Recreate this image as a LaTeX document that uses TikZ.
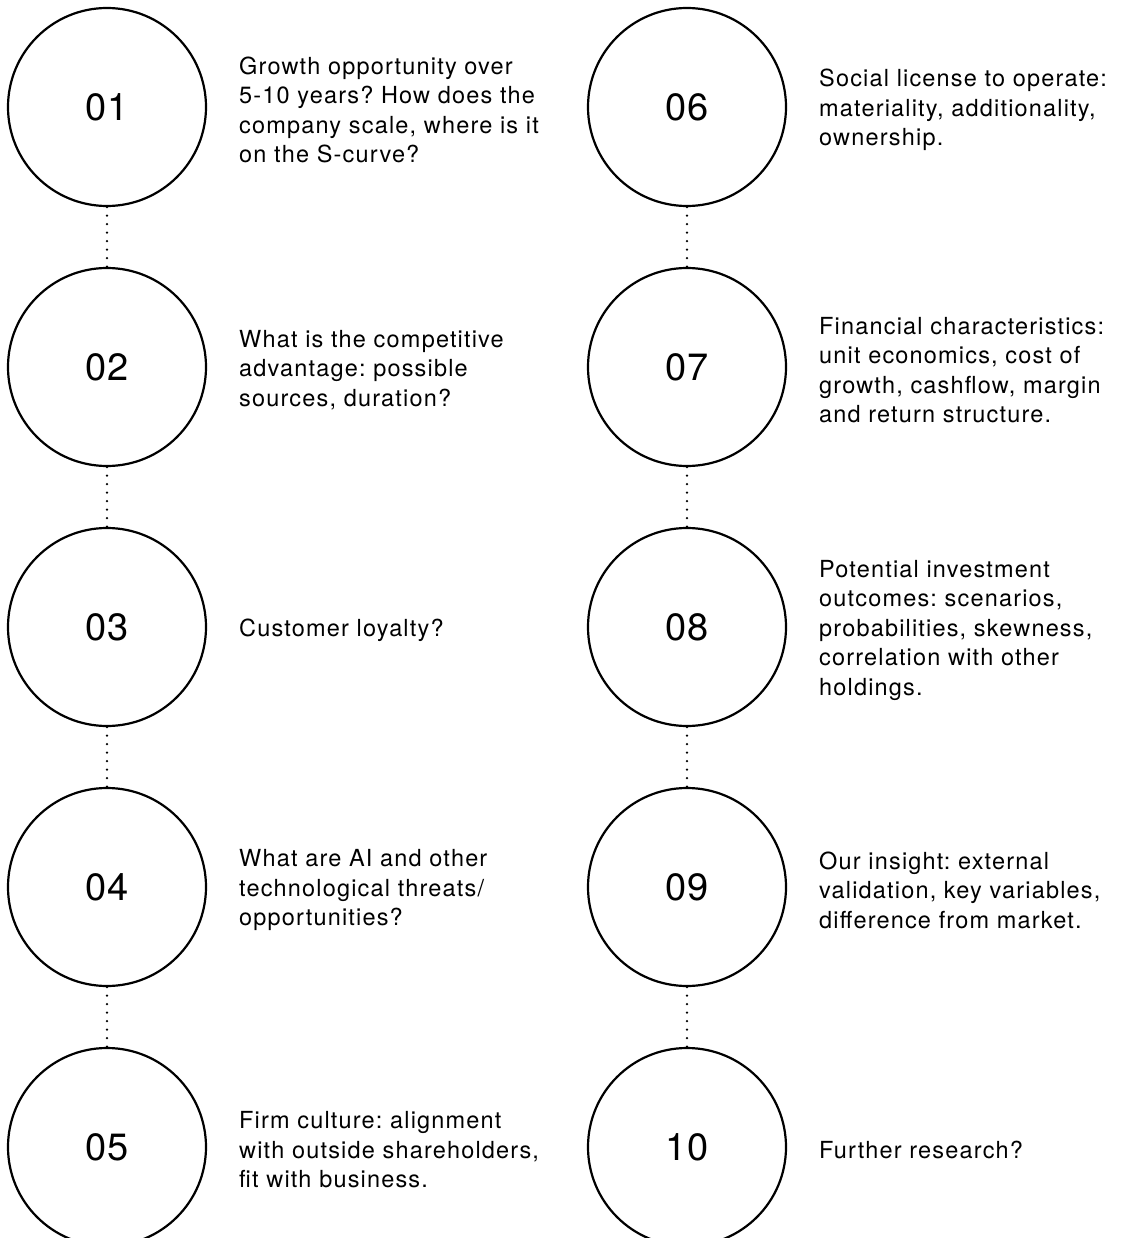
\documentclass[tikz,border=0pt]{standalone}
\usepackage{fontspec}
\setmainfont{TeX Gyre Heros}
\newfontfamily\bodyfont[LetterSpace=5]{TeX Gyre Heros}
\frenchspacing
\begin{document}
\begin{tikzpicture}[x=1pt,y=1pt,
  numcircle/.style={circle, draw=black, line width=2.2pt, minimum size=198pt, inner sep=0pt,
    font=\fontsize{38}{40}\selectfont},
  desc/.style={anchor=west, align=left, inner sep=0pt,
    font=\bodyfont\frenchspacing\fontsize{23.5}{29.5}\selectfont},
  dots/.style={line width=2.6pt, line cap=round, dash pattern=on 0pt off 8.5pt}]
\useasboundingbox (0,0) rectangle (1133,-1238);
% left column
\node[numcircle] (c1) at (107,-107) {01};
\node[numcircle] (c2) at (107,-367) {02};
\node[numcircle] (c3) at (107,-627) {03};
\node[numcircle] (c4) at (107,-887) {04};
\node[numcircle] (c5) at (107,-1147) {05};
% right column
\node[numcircle] (c6) at (687,-107) {06};
\node[numcircle] (c7) at (687,-367) {07};
\node[numcircle] (c8) at (687,-627) {08};
\node[numcircle] (c9) at (687,-887) {09};
\node[numcircle] (c10) at (687,-1147) {10};
% connectors
\draw[dots] (c1.south) -- (c2.north);
\draw[dots] (c2.south) -- (c3.north);
\draw[dots] (c3.south) -- (c4.north);
\draw[dots] (c4.south) -- (c5.north);
\draw[dots] (c6.south) -- (c7.north);
\draw[dots] (c7.south) -- (c8.north);
\draw[dots] (c8.south) -- (c9.north);
\draw[dots] (c9.south) -- (c10.north);
% descriptions
\node[desc] (t1) at (239,-110) {Growth opportunity over\\5-10 years? How does the\\company scale, where is it\\on the S-curve?};
\node[desc] (t2) at (239,-370) {What is the competitive\\advantage: possible\\sources, duration?};
\node[desc] (t3) at (239,-630) {Customer loyalty?};
\node[desc] (t4) at (239,-890) {What are AI and other\\technological threats/\\opportunities?};
\node[desc] (t5) at (239,-1150) {Firm culture: alignment\\with outside shareholders,\\fit with business.};
\node[desc] (t6) at (819,-110) {Social license to operate:\\materiality, additionality,\\ownership.};
\node[desc] (t7) at (819,-370) {Financial characteristics:\\unit economics, cost of\\growth, cashflow, margin\\and return structure.};
\node[desc] (t8) at (819,-630) {Potential investment\\outcomes: scenarios,\\probabilities, skewness,\\correlation with other\\holdings.};
\node[desc] (t9) at (819,-890) {Our insight: external\\validation, key variables,\\difference from market.};
\node[desc] (t10) at (819,-1150) {Further research?};
\end{tikzpicture}
\end{document}
